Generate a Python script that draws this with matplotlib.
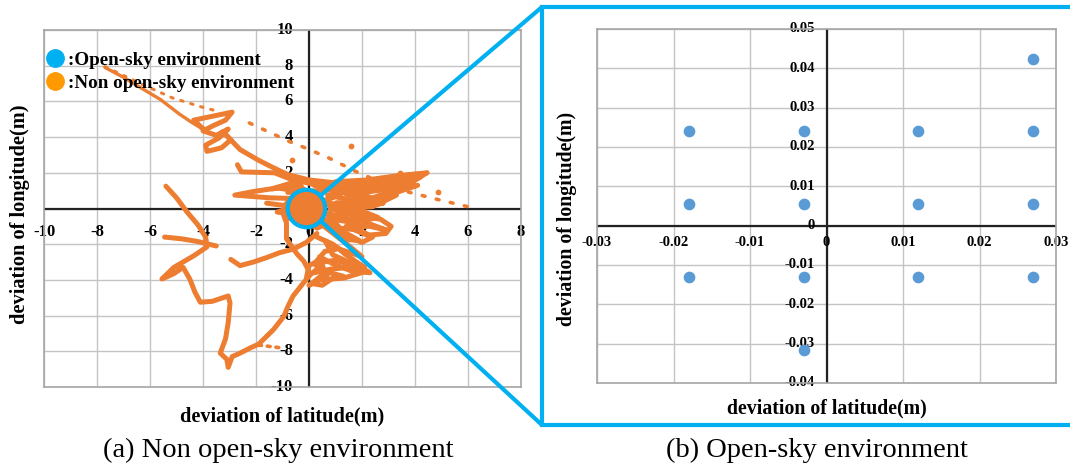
import matplotlib
matplotlib.use('Agg')
import matplotlib.pyplot as plt
from matplotlib.lines import Line2D

plt.rcParams['font.family'] = ['Liberation Serif', 'DejaVu Serif']

# ---- (a) non open-sky trajectory, deviation in metres ----
# north-west arm (dense dots) and the loop around (-3, 4.5)
nw_x = [-7.7, -7.0, -6.5, -5.6, -4.9, -4.4, -3.95]
nw_y = [7.9, 7.35, 6.9, 6.1, 5.3, 4.8, 4.4]
loop_x = [-3.95, -4.35, -3.7, -2.9, -3.15, -3.6, -4.0, -3.5, -3.05, -3.4, -3.9, -3.85,
          -3.3, -2.95, -3.25, -2.6, -1.9, -1.3, -0.8, 0.0, 0.9, 1.9, 3.0, 3.8, 4.45]
loop_y = [4.4, 4.95, 5.15, 5.4, 4.95, 4.65, 4.35, 4.1, 4.45, 3.95, 3.55, 3.2,
          3.4, 3.85, 4.3, 3.3, 2.7, 2.25, 1.9, 1.6, 1.45, 1.4, 1.7, 1.9, 2.0]
# scribble east of the origin
east_x = [4.45, 3.9, 3.0, 2.2, 1.4, 2.4, 3.4, 4.1, 2.9, 1.8, 1.0, 2.0, 2.8, 1.6, 0.8, 1.8,
          2.7, 3.1, 2.9, 2.2, 1.4, 2.3, 2.9, 2.0, 1.2, 0.6, 1.3, 1.9, 1.2, 0.6, 0.3]
east_y = [2.0, 1.5, 1.2, 0.9, 0.8, 0.6, 1.1, 1.3, 0.7, 0.4, 0.3, 0.2, 0.3, -0.1, 0.0, -0.4,
          -0.6, -1.0, -1.4, -1.5, -1.0, -1.0, -1.2, -0.7, -0.5, -0.2, -1.3, -1.8, -1.7, -1.0, -0.4]
east2_x = [0.2, 1.0, 2.0, 3.0, 4.2, 3.6, 2.6, 1.6, 0.7, 1.5, 2.5, 3.3, 2.4, 1.3, 0.5, 1.2,
           2.1, 2.6, 1.7, 0.9, 0.4, 1.1, 1.9, 2.4, 2.0, 1.2, 0.6]
east2_y = [1.3, 1.25, 1.3, 1.45, 1.75, 1.3, 1.0, 0.95, 0.75, 0.5, 0.5, 0.75, 0.1, 0.05, 0.45, -0.3,
           -0.2, -0.5, -0.8, -0.6, -0.9, -1.1, -1.2, -1.6, -1.9, -1.4, -0.6]
wedge_x = [1.0, 2.2, 3.4, 4.3, 3.2, 2.0, 3.6, 2.8, 1.4]
wedge_y = [1.5, 1.6, 1.85, 1.95, 1.45, 1.1, 1.6, 1.25, 1.2]
core_x = [-0.8, 0.3, 1.5, 0.9, 0.2, -0.6, 0.5, 1.2, 0.4, -0.5, 0.3, 0.9, -0.2, -0.9, -0.3, 0.6]
core_y = [0.9, 1.0, 1.1, 0.6, 0.3, 0.5, -0.1, -0.6, -0.9, -0.4, -1.1, -0.7, -0.7, 0.2, 1.2, 0.1]
core2_x = [-1.6, -0.6, -1.2, -0.2, -0.9, -0.3, -1.4, -0.5]
core2_y = [0.3, 0.1, -0.2, -0.4, -0.6, 1.3, 1.1, 1.5]
west_x = [-0.4, -1.5, -2.8, -2.1, -1.2, -0.5]
west_y = [0.55, 0.6, 0.75, 0.95, 1.15, 1.0]
mid_x = [-2.7, -2.55, -1.3, -0.7, 0.05, 0.6]
mid_y = [2.45, 2.05, 2.0, 1.65, 1.4, 1.1]
# south-west excursion
sw_x = [-5.4, -5.0, -4.6, -4.2, -3.9, -3.85, -4.35, -5.1, -5.55, -5.1, -4.75, -4.5, -4.3,
        -4.1, -3.65, -3.05, -2.98, -3.05, -3.15, -3.35, -3.1, -3.05, -2.9, -2.6, -2.2,
        -1.9, -1.35, -0.95, -0.8, -0.6, -0.2, 0.0]
sw_y = [1.25, 0.6, -0.2, -0.9, -1.6, -2.15, -2.65, -3.3, -3.95, -3.65, -3.3, -3.95, -4.7,
        -5.25, -5.2, -4.9, -5.3, -6.4, -7.3, -8.1, -8.45, -8.9, -8.3, -8.1, -7.8,
        -7.6, -6.8, -6.05, -5.5, -4.9, -4.15, -3.8]
branch_x = [-5.45, -4.8, -4.2, -3.5]
branch_y = [-1.6, -1.7, -1.85, -2.1]
link_x = [-2.95, -2.6, -2.1, -1.6, -1.1, -0.6, -0.1, 0.3]
link_y = [-2.85, -3.2, -3.0, -2.75, -2.47, -2.28, -1.9, -1.4]
vert_x = [-1.0, -0.85, -0.85, -0.45, -0.2, 0.0]
vert_y = [-0.2, -0.8, -1.7, -2.55, -2.95, -3.5]
south_x = [0.4, 1.0, 1.6, 2.0, 1.2, 0.6, 0.9, 1.5, 2.3, 1.6, 0.9, 0.4, 0.6, 0.1, 0.5,
           0.9, 1.3, 0.3, -0.1, 0.0, 0.4]
south_y = [-0.8, -1.5, -2.2, -2.7, -2.3, -1.8, -2.6, -3.0, -3.6, -3.5, -3.1, -2.7, -3.6,
           -4.2, -4.3, -3.9, -3.8, -3.4, -3.9, -3.2, -2.9]
south2_x = [0.3, 0.9, 1.4, 2.1, 1.7, 1.0, 0.5, 0.2, 0.8, 1.5, 2.2, 1.3, 0.4, 0.0, 0.7, 0.2,
            0.6, 1.0]
south2_y = [-1.6, -2.0, -2.6, -3.3, -3.2, -2.9, -3.0, -3.6, -3.4, -3.3, -3.5, -3.9, -4.0, -4.3,
            -3.7, -3.1, -2.4, -2.3]
# sparse dotted runs and stray fixes
dota_x = [-7.7, -6.42, -5.16, -4.15, -3.45]
dota_y = [7.95, 7.04, 6.2, 5.73, 5.45]
dotb_x = [-2.25, -0.75, -0.13, 0.75, 1.76, 2.77, 3.65, 4.9, 5.97]
dotb_y = [4.79, 3.76, 3.39, 2.83, 2.08, 1.42, 0.96, 0.49, 0.11]
tail_x = [-1.9, -1.1]
tail_y = [-7.65, -7.8]
stray_x = [1.57, -0.63, 3.45, 4.85]
stray_y = [3.48, 2.73, 2.0, 0.9]

# ---- (b) open-sky fixes ----
open_x = [-0.018, -0.003, 0.012, 0.027, -0.018, -0.003, 0.012, 0.027,
          -0.018, -0.003, 0.012, 0.027, 0.027, -0.003]
open_y = [0.024, 0.024, 0.024, 0.024, 0.0055, 0.0055, 0.0055, 0.0055,
          -0.013, -0.013, -0.013, -0.013, 0.0425, -0.0315]

a_xticks = [-10, -8, -6, -4, -2, 0, 2, 4, 6, 8]
a_yticks = [-10, -8, -6, -4, -2, 0, 2, 4, 6, 8, 10]
b_xticks = [-0.03, -0.02, -0.01, 0.0, 0.01, 0.02, 0.03]
b_yticks = [-0.04, -0.03, -0.02, -0.01, 0.0, 0.01, 0.02, 0.03, 0.04, 0.05]
zoom_center = (-0.1, 0.05)

ORANGE = '#ED7D31'
SKY = '#00B0F0'
W, H = 1070, 468

fig = plt.figure(figsize=(W / 100, H / 100), dpi=100)


def px_box(l, t, r, b):
    return [l / W, 1 - b / H, (r - l) / W, (b - t) / H]


def style_axes(ax, xticks, yticks):
    ax.set_xlim(xticks[0], xticks[-1])
    ax.set_ylim(yticks[0], yticks[-1])
    ax.set_xticks(xticks)
    ax.set_yticks(yticks)
    ax.tick_params(length=0, labelbottom=False, labelleft=False)
    ax.grid(True, color='#c4c4c4', lw=1.0)
    ax.set_axisbelow(True)
    for s in ax.spines.values():
        s.set_color('#a6a6a6')
        s.set_linewidth(1.2)
    ax.axhline(0, color='#222222', lw=1.6, zorder=1.5)
    ax.axvline(0, color='#222222', lw=1.6, zorder=1.5)


def zero_labels(ax, xticks, yticks, fmt, xoff, yoff, size):
    # Excel style: labels sit next to the zero axes
    for v in xticks:
        ax.annotate(fmt(v), (v, 0), xytext=(0, -xoff), textcoords='offset pixels',
                    ha='center', va='center', fontsize=size, fontweight='bold',
                    annotation_clip=False, zorder=1.6)
    for v in yticks:
        ax.annotate(fmt(v), (0, v), xytext=(-yoff, 0), textcoords='offset pixels',
                    ha='right', va='center', fontsize=size, fontweight='bold',
                    annotation_clip=False, zorder=1.6)


ax1 = fig.add_axes(px_box(44, 30, 521, 387))
ax2 = fig.add_axes(px_box(597, 29, 1056, 383))
style_axes(ax1, a_xticks, a_yticks)
style_axes(ax2, b_xticks, b_yticks)
zero_labels(ax1, a_xticks, a_yticks, lambda v: f'{v:g}', 23, 16, 12)
zero_labels(ax2, b_xticks, b_yticks, lambda v: '0' if v == 0 else f'{v:.2f}', 17, 12, 10.5)

# trajectory
solid = dict(color=ORANGE, lw=3.6, solid_joinstyle='round', solid_capstyle='round', zorder=3)
for xs, ys in [(loop_x, loop_y), (east_x, east_y), (east2_x, east2_y), (wedge_x, wedge_y),
               (core_x, core_y), (core2_x, core2_y), (west_x, west_y), (mid_x, mid_y),
               (sw_x, sw_y), (branch_x, branch_y), (link_x, link_y), (vert_x, vert_y),
               (south_x, south_y), (south2_x, south2_y)]:
    ax1.plot(xs, ys, **solid)
ax1.plot(nw_x, nw_y, color=ORANGE, lw=2.4, solid_capstyle='round', zorder=3)
ax1.plot(dota_x, dota_y, color=ORANGE, lw=2.2, ls=(0, (0.8, 2.6)), dash_capstyle='round', zorder=3)
ax1.plot(dotb_x, dotb_y, color=ORANGE, lw=2.6, ls=(0, (0.8, 3.2)), dash_capstyle='round', zorder=3)
ax1.plot(tail_x, tail_y, color=ORANGE, lw=2.6, ls=(0, (0.8, 1.6)), dash_capstyle='round', zorder=3)
ax1.scatter(stray_x, stray_y, s=10, color=ORANGE, zorder=3)

# magnified region marker
ax1.plot([zoom_center[0]], [zoom_center[1]], 'o', ms=27, mfc=ORANGE, mec=SKY, mew=3, zorder=6)

handles = [Line2D([], [], ls='none', marker='o', ms=12.5, color=SKY),
           Line2D([], [], ls='none', marker='o', ms=12.5, color='#FF9900')]
ax1.legend(handles, [':Open-sky environment', ':Non open-sky environment'],
           loc='upper left', bbox_to_anchor=(0.008, 0.94), bbox_transform=ax1.transAxes,
           frameon=False, prop=dict(weight='bold', size=13.7), handlelength=0.8,
           handletextpad=0.28, labelspacing=0.3, borderpad=0, borderaxespad=0)

ax2.scatter(open_x, open_y, s=55, color='#5B9BD5', zorder=3, clip_on=False)

# axis titles
fig.text(282 / W, 1 - 416 / H, 'deviation of latitude(m)', ha='center', va='center',
         fontsize=14.6, fontweight='bold')
fig.text(827 / W, 1 - 408 / H, 'deviation of latitude(m)', ha='center', va='center',
         fontsize=14.3, fontweight='bold')
fig.text(20 / W, 1 - 214 / H, 'deviation of longitude(m)', ha='center', va='center',
         rotation=90, fontsize=14.7, fontweight='bold')
fig.text(567 / W, 1 - 219 / H, 'deviation of longitude(m)', ha='center', va='center',
         rotation=90, fontsize=14.3, fontweight='bold')

# captions
fig.text(278 / W, 1 - 450 / H, '(a) Non open-sky environment', ha='center', va='center', fontsize=20.5)
fig.text(817 / W, 1 - 450 / H, '(b) Open-sky environment', ha='center', va='center', fontsize=20.5)

# zoom frame and connectors
fl, ft, fb = 542 / W, 1 - 7 / H, 1 - 425 / H
fig.add_artist(Line2D([1.01, fl, fl, 1.01], [ft, ft, fb, fb], transform=fig.transFigure,
                      color=SKY, lw=3, solid_joinstyle='miter'))
cx, cy = ax1.transData.transform(zoom_center)
for tx, ty in [(542, H - 7), (542, H - 425)]:
    dx, dy = tx - cx, ty - cy
    d = (dx ** 2 + dy ** 2) ** 0.5
    sx, sy = cx + 18 * dx / d, cy + 18 * dy / d
    fig.add_artist(Line2D([sx / W, tx / W], [sy / H, ty / H], transform=fig.transFigure,
                          color=SKY, lw=3, solid_capstyle='butt'))

fig.savefig('out.png', dpi=100)
